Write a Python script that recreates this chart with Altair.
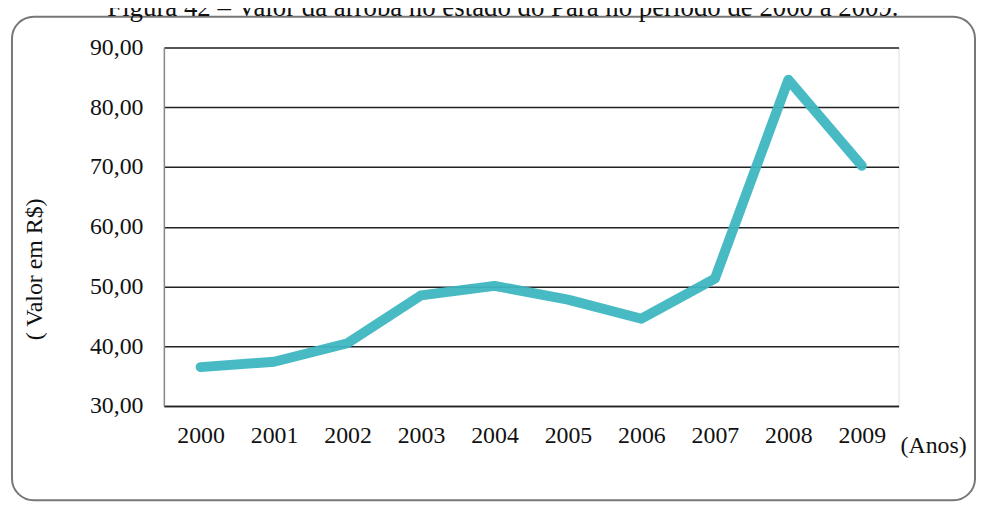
import altair as alt
import pandas as pd

anos = ["2000", "2001", "2002", "2003", "2004", "2005", "2006", "2007", "2008", "2009"]
valores = [36.5, 37.4, 40.5, 48.5, 50.1, 47.8, 44.6, 51.3, 84.6, 70.2]
y_ticks = [30, 40, 50, 60, 70, 80, 90]

titulo = "Figura 42 – Valor da arroba no estado do Pará no período de 2000 a 2009."
eixo_y = "( Valor em R$)"
eixo_x = "(Anos)"

df = pd.DataFrame({"ano": anos, "valor": valores})
FONT = "Liberation Serif"
W, H = 740, 361

line = alt.Chart(df).mark_line(
    color="#3db6c0", strokeWidth=10, strokeCap="round", strokeJoin="round", opacity=0.95
).encode(
    x=alt.X("ano:N", sort=anos,
            scale=alt.Scale(type="point", padding=0.5),
            axis=alt.Axis(title=None, labelAngle=0, labelFont=FONT, labelFontSize=24,
                          labelColor="#111", labelPadding=18, labelBaseline="top",
                          ticks=False, domain=True, domainColor="#222", domainWidth=1.5,
                          grid=False)),
    y=alt.Y("valor:Q",
            scale=alt.Scale(domain=[30, 90], nice=False, zero=False),
            axis=alt.Axis(values=y_ticks, title=eixo_y, titleFont=FONT, titleFontSize=24,
                          titleFontWeight="normal", titleColor="#111",
                          titleAngle=270, titleX=-130, titleY=223,
                          titleAlign="center", titleBaseline="middle",
                          labelExpr="replace(format(datum.value, '.2f'), '.', ',')",
                          labelFont=FONT, labelFontSize=24, labelColor="#111",
                          labelPadding=21, ticks=False,
                          domain=True, domainColor="#888", domainWidth=1.5,
                          grid=True, gridColor="#222", gridWidth=1.5)),
)

deco = alt.Data(values=[{"k": 1}])

box = alt.Chart(deco).mark_rect(
    fill=None, stroke="#777", strokeWidth=2, cornerRadius=22
).encode(
    x=alt.value(-153), x2=alt.value(817), y=alt.value(-31), y2=alt.value(456)
)

title_txt = alt.Chart(deco).mark_text(
    text=titulo, font=FONT, fontSize=27, color="#111", align="right", baseline="alphabetic"
).encode(x=alt.value(740), y=alt.value(-32))

anos_txt = alt.Chart(deco).mark_text(
    text=eixo_x, font=FONT, fontSize=24, color="#111", align="left", baseline="middle"
).encode(x=alt.value(742), y=alt.value(401))

chart = alt.layer(box, line, title_txt, anos_txt).properties(
    width=W, height=H,
    autosize=alt.AutoSizeParams(type="none"),
    padding={"left": 157, "top": 38, "right": 79, "bottom": 97},
).configure_view(stroke=None).configure(background="white", font=FONT)

chart.save("out.html", embed_options={"renderer": "svg", "actions": False})
